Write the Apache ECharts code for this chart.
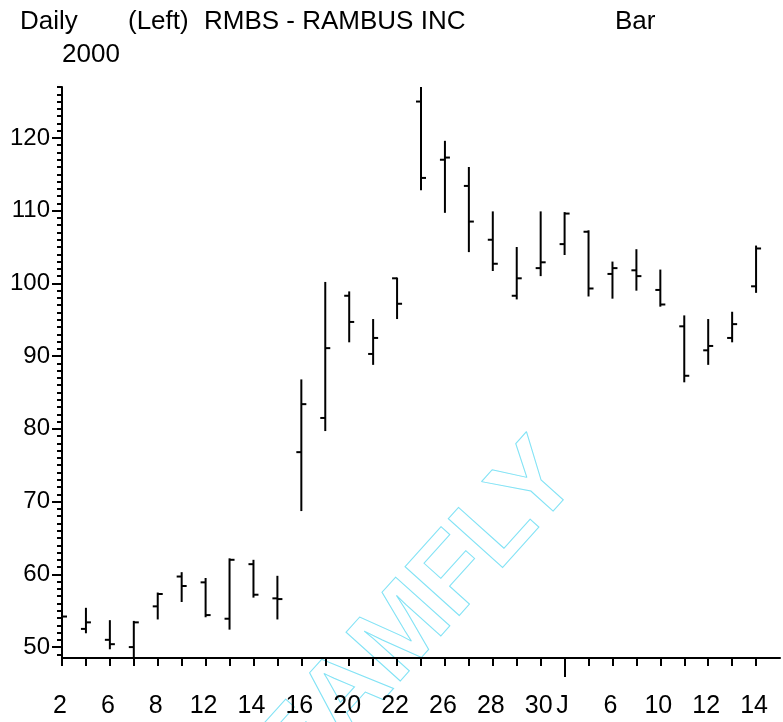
<!DOCTYPE html>
<html>
<head>
<meta charset="utf-8">
<title>RMBS - RAMBUS INC</title>
<script src="https://cdn.jsdelivr.net/npm/echarts@6/dist/echarts.min.js"></script>
<style>
  html, body { margin: 0; padding: 0; background: #fff; }
  #chart { width: 783px; height: 722px; }
</style>
</head>
<body>
<div id="chart"></div>
<script>
// 日期标签（空串表示不标注）
const dayLabels = ['2', '', '6', '', '8', '', '12', '', '14', '', '16', '', '20', '', '22', '',
  '26', '', '28', '', '30', 'J', '', '6', '', '10', '', '12', '', '14', ''];

// 每日开高低收
const opens  = [54.0, 52.5, 51.0, 50.0, 55.6, 59.7, 58.9, 53.9, 61.4, 56.7,
  76.8, 81.5, 98.3, 90.3, 100.7, 125.0, 117.0, 113.4, 106.0, 98.3,
  102.1, 105.4, 107.1, 101.3, 101.8, 99.1, 94.1, 90.8, 92.5, 99.6];
const highs  = [55.1, 55.4, 53.7, 53.6, 57.5, 60.3, 59.5, 62.2, 62.0, 59.8,
  86.8, 100.2, 98.9, 95.1, 100.8, 127.0, 119.6, 116.0, 109.9, 105.0,
  109.9, 109.8, 107.3, 103.0, 104.7, 101.9, 95.6, 95.1, 96.1, 105.2];
const lows   = [52.2, 51.9, 49.7, 48.5, 53.8, 56.2, 54.1, 52.4, 56.8, 53.8,
  68.7, 79.7, 91.9, 88.8, 95.1, 112.8, 109.7, 104.3, 101.7, 97.8,
  101.0, 103.9, 98.2, 97.9, 99.0, 96.8, 86.4, 88.8, 91.9, 98.7];
const closes = [54.2, 53.4, 50.4, 53.4, 57.3, 58.4, 54.4, 62.0, 57.2, 56.6,
  83.4, 91.1, 94.7, 92.5, 97.2, 114.5, 117.3, 108.5, 102.7, 100.7,
  102.9, 109.6, 99.3, 102.1, 101.0, 97.1, 87.3, 91.4, 94.4, 104.8];

// 纵轴刻度
const yLabelValues = [50, 60, 70, 80, 90, 100, 110, 120];
const yMinorValues = [];
for (let v = 49; v <= 127; v++) yMinorValues.push(v);

const FONT = 'Liberation Sans, Arial, sans-serif';
const monthIndex = dayLabels.indexOf('J');

const chart = echarts.init(document.getElementById('chart'));

/**
 * 画一根美国线：高低竖线，左开右收
 */
function renderOhlc(params, api) {
  const i = api.value(0);
  const hi = api.coord([i, api.value(4)]);
  const lo = api.coord([i, api.value(3)]);
  const op = api.coord([i, api.value(1)]);
  const cl = api.coord([i, api.value(2)]);
  const style = { stroke: '#000', lineWidth: 2 };
  return {
    type: 'group',
    children: [
      { type: 'line', shape: { x1: hi[0], y1: hi[1], x2: lo[0], y2: lo[1] }, style },
      { type: 'line', shape: { x1: op[0] - 5, y1: op[1], x2: op[0], y2: op[1] }, style },
      { type: 'line', shape: { x1: cl[0], y1: cl[1], x2: cl[0] + 5, y2: cl[1] }, style }
    ]
  };
}

const ohlcData = opens.map((o, i) => [i, o, closes[i], lows[i], highs[i]]);

function headText(x, y, text) {
  return {
    type: 'text', x, y, z: 10,
    style: { text, fill: '#000', font: '26px ' + FONT, verticalAlign: 'middle' }
  };
}

const option = {
  backgroundColor: '#fff',
  animation: false,
  grid: { left: 62, right: 2, top: 87, bottom: 64 },
  graphic: [
    headText(20, 22, 'Daily'),
    headText(128, 22, '(Left)'),
    headText(204, 22, 'RMBS - RAMBUS INC'),
    headText(615, 22, 'Bar'),
    headText(62, 55, '2000'),
    {
      // 水印
      type: 'text', x: 396, y: 642, rotation: 48 * Math.PI / 180, z: 0,
      style: {
        text: 'TEAMFLY', font: 'bold 106px ' + FONT, align: 'center', verticalAlign: 'middle',
        fill: 'rgba(0,0,0,0)', stroke: '#7fe2f5', lineWidth: 1
      }
    }
  ],
  xAxis: [
    {
      type: 'category',
      data: dayLabels,
      boundaryGap: false,
      axisLine: { lineStyle: { color: '#000', width: 2 } },
      axisTick: { interval: (idx) => idx < dayLabels.length - 1, length: 8, lineStyle: { color: '#000', width: 2 } },
      axisLabel: { interval: 0, color: '#000', fontSize: 25, fontFamily: FONT, margin: 36, padding: [0, 4, 0, 0] },
      splitLine: { show: false }
    },
    {
      type: 'category',
      data: dayLabels,
      boundaryGap: false,
      position: 'bottom',
      axisLine: { show: false },
      axisTick: { interval: (idx) => idx === monthIndex, length: 19, lineStyle: { color: '#000', width: 2 } },
      axisLabel: { show: false },
      splitLine: { show: false }
    }
  ],
  yAxis: [
    {
      type: 'value',
      min: 48.5,
      max: 127,
      axisLine: { show: true, lineStyle: { color: '#000', width: 2 } },
      axisTick: { show: true, customValues: yLabelValues, length: 10, lineStyle: { color: '#000', width: 2 } },
      axisLabel: { customValues: yLabelValues, color: '#000', fontSize: 24, fontFamily: FONT, margin: 12 },
      splitLine: { show: false }
    },
    {
      type: 'value',
      min: 48.5,
      max: 127,
      position: 'left',
      axisLine: { show: false },
      axisTick: { show: true, customValues: yMinorValues, length: 5, lineStyle: { color: '#000', width: 2 } },
      axisLabel: { show: false },
      splitLine: { show: false }
    }
  ],
  series: [
    {
      type: 'custom',
      name: 'RMBS',
      renderItem: renderOhlc,
      xAxisIndex: 0,
      yAxisIndex: 0,
      encode: { x: 0, y: [1, 2, 3, 4] },
      data: ohlcData,
      clip: false,
      z: 5
    }
  ]
};

chart.setOption(option);
window.addEventListener('resize', () => chart.resize());
</script>
</body>
</html>
